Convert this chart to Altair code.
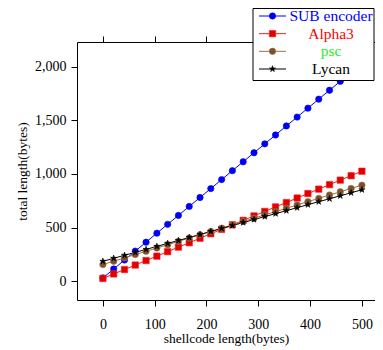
import altair as alt
import pandas as pd

# ---- data ----
shellcode = [0, 20.8, 41.7, 62.5, 83.3, 104.2, 125, 145.8, 166.7, 187.5, 208.3, 229.2,
             250, 270.8, 291.7, 312.5, 333.3, 354.2, 375, 395.8, 416.7, 437.5, 458.3, 479.2, 500]
sub_encoder = [30, 113, 197, 280, 363, 447, 530, 613, 697, 780, 863, 947,
               1030, 1113, 1197, 1280, 1363, 1447, 1530, 1613, 1697, 1780, 1863, 1947, 2030]
alpha3 = [25, 67, 108, 150, 192, 233, 275, 317, 358, 400, 442, 483,
          525, 567, 608, 650, 692, 733, 775, 817, 858, 900, 942, 983, 1025]
psc = [155, 186, 217, 248, 278, 309, 340, 371, 402, 433, 463, 494,
       525, 556, 587, 618, 648, 679, 710, 741, 772, 803, 833, 864, 895]
lycan = [185, 213, 241, 268, 296, 324, 352, 379, 407, 435, 463, 491,
         518, 546, 574, 602, 629, 657, 685, 713, 741, 768, 796, 824, 852]
series_names = ["SUB encoder", "Alpha3", "psc", "Lycan"]
x_ticks = [0, 100, 200, 300, 400, 500]
y_ticks = [0, 500, 1000, 1500, 2000]

rows = []
for name, vals in zip(series_names, [sub_encoder, alpha3, psc, lycan]):
    for xv, yv in zip(shellcode, vals):
        rows.append({"series": name, "x": xv, "y": yv})
df = pd.DataFrame(rows)
legend_df = pd.DataFrame({"series": series_names, "slot": list(range(len(series_names)))})

# ---- styles ----
FONT = "Liberation Serif"
line_colors = ["#0000ff", "#ff1a1a", "#a0703c", "#000000"]
marker_fill = ["#0000ee", "#e00000", "#7a5030", "#000000"]
text_colors = ["#0000ff", "#ff0000", "#22ee22", "#000000"]
star = ("M0,-1L0.223,-0.307L0.951,-0.309L0.361,0.117L0.588,0.809L0,0.38"
        "L-0.588,0.809L-0.361,0.117L-0.951,-0.309L-0.223,-0.307Z")
shapes = ["circle", "square", "circle", star]
sizes = [40, 42, 40, 34]

xscale = alt.Scale(domain=[-50, 525.3], nice=False, zero=False)
yscale = alt.Scale(domain=[-176, 2230], nice=False, zero=False)
stroke_enc = alt.Stroke("series:N", scale=alt.Scale(domain=series_names, range=line_colors), legend=None)
fill_enc = alt.Fill("series:N", scale=alt.Scale(domain=series_names, range=marker_fill), legend=None)
shape_enc = alt.Shape("series:N", scale=alt.Scale(domain=series_names, range=shapes), legend=None)
size_enc = alt.Size("series:N", scale=alt.Scale(domain=series_names, range=sizes), legend=None)

axis_style = dict(labelFont=FONT, labelFontSize=14, labelColor="black",
                  titleFont=FONT, titleFontSize=13.5, titleFontWeight="normal", titleColor="black",
                  tickColor="black", domainColor="black", tickSize=6, grid=False)

lines = alt.Chart(df).mark_line(strokeWidth=1).encode(
    x=alt.X("x:Q", scale=xscale,
            axis=alt.Axis(values=x_ticks, format="d", title="shellcode length(bytes)",
                          labelPadding=11, titlePadding=0, **axis_style)),
    y=alt.Y("y:Q", scale=yscale,
            axis=alt.Axis(values=y_ticks, format=",.0f", title="total length(bytes)",
                          labelPadding=5, titlePadding=5, **axis_style)),
    stroke=stroke_enc,
)

points = alt.Chart(df).mark_point(filled=True, strokeWidth=0.6, opacity=1).encode(
    x=alt.X("x:Q", scale=xscale, axis=None),
    y=alt.Y("y:Q", scale=yscale, axis=None),
    fill=fill_enc,
    stroke=stroke_enc,
    shape=shape_enc,
    size=size_enc,
)

top_ticks = alt.Chart(df).mark_point(opacity=0).encode(
    x=alt.X("x:Q", scale=xscale,
            axis=alt.Axis(orient="top", values=x_ticks, labels=False, title=None, **axis_style)),
    y=alt.Y("y:Q", scale=yscale, axis=None),
)

ly = alt.Y("slot:Q", scale=alt.Scale(domain=[0, 3], range=[-26, 27]), axis=None)

box = alt.Chart(pd.DataFrame({"k": [0]})).mark_rect(fill="white", stroke="black", strokeWidth=1).encode(
    x=alt.value(176), x2=alt.value(297), y=alt.value(-33.5), y2=alt.value(38.5)
)
leg_lines = alt.Chart(legend_df).mark_rule(strokeWidth=1).encode(
    x=alt.value(182), x2=alt.value(209), y=ly, stroke=stroke_enc
)
leg_pts = alt.Chart(legend_df).mark_point(filled=True, strokeWidth=0.6, opacity=1).encode(
    x=alt.value(195.5), y=ly, fill=fill_enc, stroke=stroke_enc, shape=shape_enc, size=size_enc
)
leg_text = alt.Chart(legend_df).mark_text(font=FONT, fontSize=15.5, align="center", baseline="middle").encode(
    x=alt.value(254), y=ly, text="series:N",
    color=alt.Color("series:N", scale=alt.Scale(domain=series_names, range=text_colors), legend=None),
)

chart = alt.layer(
    lines, points, top_ticks, box, leg_lines, leg_pts, leg_text
).resolve_scale(y="independent").resolve_axis(x="independent", y="independent").properties(
    width=298, height=258,
    padding={"left": 69, "top": 34, "right": 0, "bottom": 48},
    autosize=alt.AutoSizeParams(type="none"),
).configure_view(stroke=None)

chart.save("out.html", embed_options={"renderer": "svg", "actions": False})
